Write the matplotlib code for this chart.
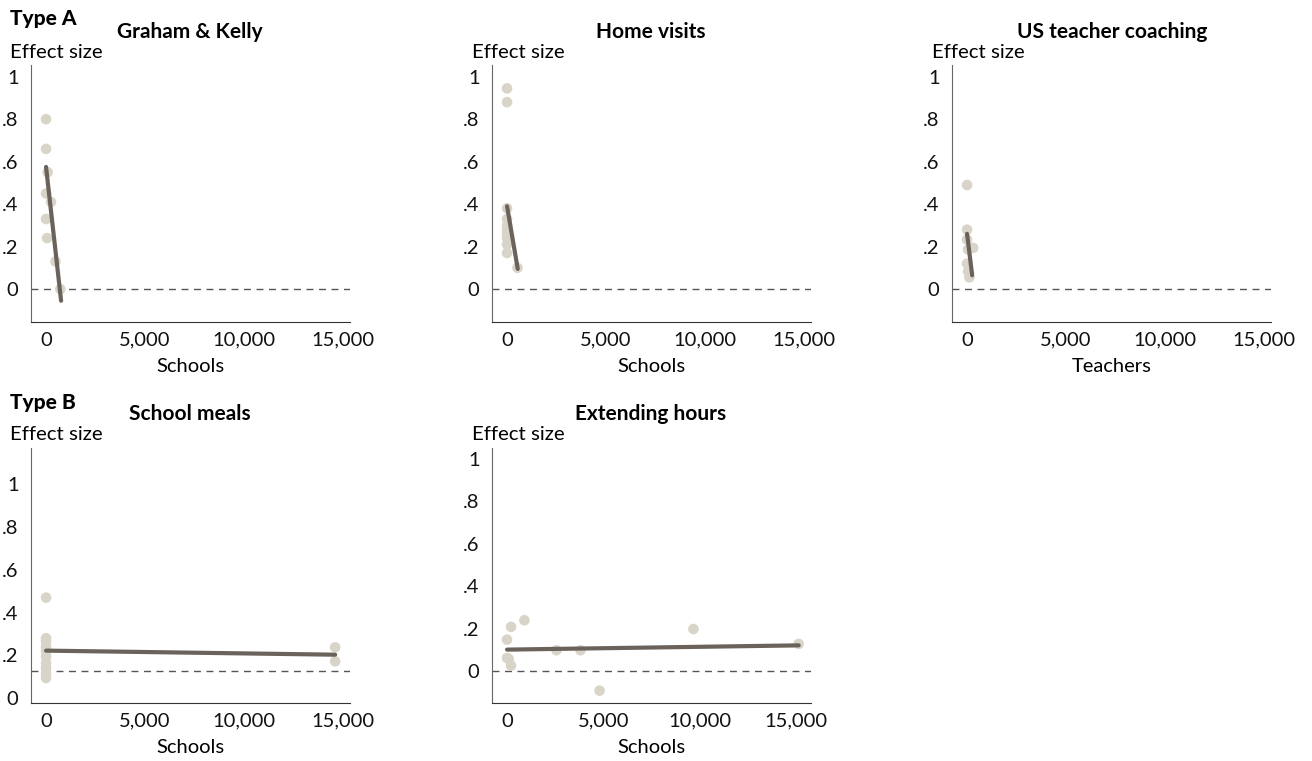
import matplotlib
matplotlib.use("Agg")
import matplotlib.pyplot as plt
import numpy as np

plt.rcParams['font.family'] = ['Lato', 'DejaVu Sans']
plt.rcParams['font.size'] = 14

W, H = 1312, 761

# --- data ---
gk_x = [0, 0, 80, 0, 250, 0, 50, 475, 720]
gk_y = [0.80, 0.66, 0.55, 0.45, 0.41, 0.33, 0.24, 0.13, 0.0]
gk_fit_x = [0, 760]
gk_fit_y = [0.575, -0.055]

hv_x = [0, 0, 0, 0, 0, 0, 0, 0, 0, 0, 525]
hv_y = [0.945, 0.88, 0.38, 0.33, 0.30, 0.28, 0.26, 0.24, 0.21, 0.17, 0.10]
hv_fit_x = [0, 540]
hv_fit_y = [0.39, 0.095]

tc_x = [0, 0, 0, 50, 310, 0, 50, 115]
tc_y = [0.49, 0.28, 0.233, 0.186, 0.194, 0.12, 0.083, 0.055]
tc_fit_x = [0, 260]
tc_fit_y = [0.26, 0.065]

sm_x = [0, 0, 0, 0, 0, 0, 0, 0, 0, 0, 14600, 14600]
sm_y = [0.47, 0.28, 0.265, 0.24, 0.22, 0.195, 0.165, 0.14, 0.117, 0.094, 0.2375, 0.172]
sm_fit_x = [0, 14600]
sm_fit_y = [0.222, 0.203]

eh_x = [0, 208, 900, 0, 90, 208, 2565, 3813, 4800, 9670, 15130]
eh_y = [0.149, 0.209, 0.24, 0.063, 0.058, 0.027, 0.099, 0.099, -0.091, 0.199, 0.129]
eh_fit_x = [0, 15130]
eh_fit_y = [0.102, 0.122]

yticks = [0, 0.2, 0.4, 0.6, 0.8, 1]
ytick_labels = ['0', '.2', '.4', '.6', '.8', '1']
xticks = [0, 5000, 10000, 15000]
xtick_labels = ['0', '5,000', '10,000', '15,000']

dot_color = '#d8d5c8'
line_color = '#6b625b'

fig = plt.figure(figsize=(W / 100, H / 100), dpi=100)


def panel(left, right, top, bottom, xs, ys, fx, fy, xlabel,
          ylim=(-0.155, 1.055), xlim=(-760, 15350), ref=0.0):
    ax = fig.add_axes([left / W, 1 - bottom / H, (right - left) / W, (bottom - top) / H])
    ax.scatter(xs, ys, s=58, color=dot_color, edgecolors='none', zorder=2)
    ax.plot(fx, fy, color=line_color, lw=3, solid_capstyle='round', zorder=3)
    ax.axhline(ref, color='#555555', lw=1, ls=(0, (5, 4)), zorder=1)
    ax.set_xlim(*xlim)
    ax.set_ylim(*ylim)
    ax.set_xticks(xticks)
    ax.set_xticklabels(xtick_labels)
    ax.set_yticks(yticks)
    ax.set_yticklabels(ytick_labels)
    ax.tick_params(length=0, labelsize=14.5, colors='#111111')
    ax.tick_params(axis='x', pad=7)
    ax.tick_params(axis='y', pad=9)
    for s in ['top', 'right']:
        ax.spines[s].set_visible(False)
    ax.spines['left'].set_color('#666666')
    ax.spines['bottom'].set_color('#333333')
    ax.set_xlabel(xlabel, fontsize=14.5, labelpad=7)
    return ax


panel(31, 350, 65, 322, gk_x, gk_y, gk_fit_x, gk_fit_y, 'Schools')
panel(492, 811, 65, 322, hv_x, hv_y, hv_fit_x, hv_fit_y, 'Schools')
panel(952, 1271, 65, 322, tc_x, tc_y, tc_fit_x, tc_fit_y, 'Teachers')
panel(31, 350, 448, 703, sm_x, sm_y, sm_fit_x, sm_fit_y, 'Schools',
      ylim=(-0.023, 1.17), ref=0.125)
panel(492, 811, 448, 703, eh_x, eh_y, eh_fit_x, eh_fit_y, 'Schools',
      ylim=(-0.149, 1.05), xlim=(-780, 15770))


def txt(x, y, s, **kw):
    fig.text(x / W, 1 - y / H, s, va='center', **kw)


# titles
txt(190, 32, 'Graham & Kelly', ha='center', fontsize=15, fontweight='bold')
txt(651, 32, 'Home visits', ha='center', fontsize=15, fontweight='bold')
txt(1112, 32, 'US teacher coaching', ha='center', fontsize=15, fontweight='bold')
txt(190, 414, 'School meals', ha='center', fontsize=15, fontweight='bold')
txt(651, 414, 'Extending hours', ha='center', fontsize=15, fontweight='bold')

# group labels
txt(10, 19, 'Type A', ha='left', fontsize=15, fontweight='black')
txt(10, 402, 'Type B', ha='left', fontsize=15, fontweight='black')

# y axis labels
for x, y in [(10, 53), (472, 53), (932, 53), (10, 434), (472, 434)]:
    txt(x, y, 'Effect size', ha='left', fontsize=14.7)

fig.savefig('out.png', dpi=100)
